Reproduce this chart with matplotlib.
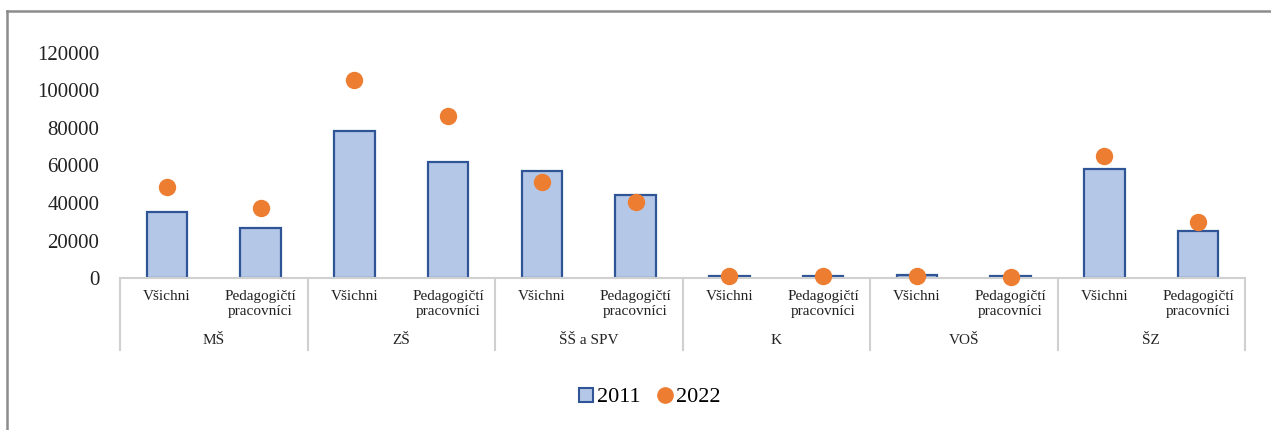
import matplotlib
matplotlib.use('Agg')
import matplotlib.pyplot as plt
import matplotlib.transforms as mtransforms
from matplotlib.lines import Line2D
import numpy as np

# data
groups = ['MŠ', 'ZŠ', 'ŠŠ a SPV', 'K', 'VOŠ', 'ŠZ']
subcats = ['Všichni', 'Pedagogičtí\npracovníci']
values_2011 = [35400, 26800, 78500, 61700, 56900, 44400, 1200, 900, 1800, 1200, 58000, 25200]
values_2022 = [48500, 37200, 105400, 86400, 51400, 40500, 1000, 900, 1000, 700, 65100, 30000]
yticks = [0, 20000, 40000, 60000, 80000, 100000, 120000]

plt.rcParams['font.family'] = ['Liberation Serif', 'DejaVu Serif']

W, H = 1271, 430
fig = plt.figure(figsize=(W / 100, H / 100), dpi=100)
# plot area in pixels: x 120..1245, y 53..278
ax = fig.add_axes([120 / W, (H - 278) / H, (1245 - 120) / W, (278 - 53) / H])

n = len(values_2011)
x = np.arange(n)
ax.bar(x, values_2011, width=0.43, color='#B4C7E7', edgecolor='#2F5597', linewidth=1.6, zorder=2)
ax.plot(x, values_2022, 'o', color='#ED7D31', markersize=11.5, zorder=3, clip_on=False)

ax.set_xlim(-0.5, n - 0.5)
ax.set_ylim(0, 120000)
ax.set_yticks(yticks)
ax.set_yticklabels([str(v) for v in yticks], fontsize=15, color='#222222')
ax.tick_params(axis='y', length=0, pad=15)
ax.set_xticks([])
for side in ['top', 'right', 'left']:
    ax.spines[side].set_visible(False)
ax.spines['bottom'].set_color('#D0D0D0')
ax.spines['bottom'].set_linewidth(1.5)

trans = mtransforms.blended_transform_factory(ax.transData, ax.transAxes)
hpx = 278 - 53
# sub category labels
for i in range(n):
    ax.text(x[i], -12 / hpx, subcats[i % 2], transform=trans, ha='center', va='top',
            fontsize=11, color='#222222', linespacing=1.25)
# group labels and separators
for g, name in enumerate(groups):
    ax.text(2 * g + 0.5, -63 / hpx, name, transform=trans, ha='center', va='center',
            fontsize=11, color='#222222')
for b in range(len(groups) + 1):
    xb = 2 * b - 0.5
    ax.plot([xb, xb], [0, -72 / hpx], transform=trans, color='#D0D0D0', lw=1.5, clip_on=False)

# legend
handles = [
    Line2D([], [], marker='s', linestyle='none', markersize=10, markerfacecolor='#B4C7E7',
           markeredgecolor='#2F5597', markeredgewidth=1.5, label='2011'),
    Line2D([], [], marker='o', linestyle='none', markersize=11, color='#ED7D31', label='2022'),
]
fig.legend(handles=handles, loc='center', bbox_to_anchor=(648 / W, (H - 397) / H), ncol=2,
           frameon=False, fontsize=16, handletextpad=0.0, columnspacing=0.6, handlelength=1.0)

# outer frame (left and top edges visible)
fig.add_artist(Line2D([6.5 / W, 6.5 / W], [0, (H - 11) / H], transform=fig.transFigure,
                      color='#8C8C8C', lw=1.8))
fig.add_artist(Line2D([6.5 / W, 1], [(H - 11) / H, (H - 11) / H], transform=fig.transFigure,
                      color='#8C8C8C', lw=1.8))

fig.savefig('out.png', dpi=100)
